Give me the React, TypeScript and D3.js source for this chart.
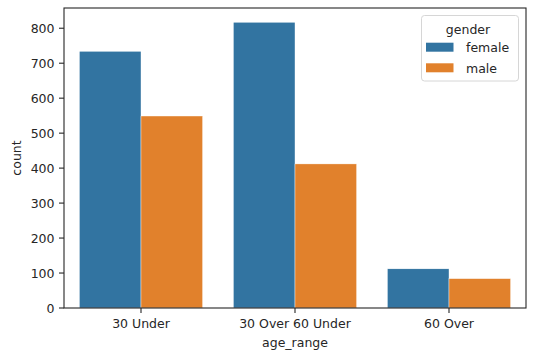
import React from "react";
import * as d3 from "d3";

const categories = ["30 Under", "30 Over 60 Under", "60 Over"];
const hues = ["female", "male"];
const femaleCounts = [734, 817, 112];
const maleCounts = [549, 412, 84];
const yTicks = [0, 100, 200, 300, 400, 500, 600, 700, 800];
const colors = ["#3274a1", "#e1812c"];

export default function App() {
  const W = 539, H = 359;
  const left = 64, right = 526, top = 8, bottom = 308;
  const maxV = d3.max([...femaleCounts, ...maleCounts]) as number;
  const y = d3.scaleLinear().domain([0, maxV * 1.05]).range([bottom, top]);
  const x = d3.scaleLinear().domain([-0.5, categories.length - 0.5]).range([left, right]);
  const series = [femaleCounts, maleCounts];
  const barW = 0.4;
  const font = "DejaVu Sans, sans-serif";
  const txt = "#262626";
  const fs = 12.5;
  return (
    <svg width={W} height={H} style={{ position: "absolute", left: 0, top: 0, background: "#fff" }} fontFamily={font}>
      {series.map((vals, si) =>
        vals.map((v, ci) => {
          const x0 = x(ci - 0.4 + si * barW);
          const x1 = x(ci - 0.4 + (si + 1) * barW);
          return (
            <rect key={`${si}-${ci}`} x={x0} y={y(v)} width={x1 - x0} height={y(0) - y(v)}
              fill={colors[si]} stroke="#ffffff" strokeWidth={0.4} />
          );
        })
      )}
      <rect x={left} y={top} width={right - left} height={bottom - top} fill="none" stroke="#262626" strokeWidth={1.1} />
      {yTicks.map((t) => (
        <g key={t}>
          <line x1={left - 5} x2={left} y1={y(t)} y2={y(t)} stroke="#262626" strokeWidth={1.1} />
          <text x={left - 9.5} y={y(t)} dy="0.36em" textAnchor="end" fontSize={fs} fill={txt}>{t}</text>
        </g>
      ))}
      {categories.map((c, i) => (
        <g key={c}>
          <line x1={x(i)} x2={x(i)} y1={bottom} y2={bottom + 5} stroke="#262626" strokeWidth={1.1} />
          <text x={x(i)} y={328} textAnchor="middle" fontSize={fs} fill={txt}>{c}</text>
        </g>
      ))}
      <text x={(left + right) / 2} y={347} textAnchor="middle" fontSize={fs} fill={txt}>age_range</text>
      <text transform={`translate(20.5,${(top + bottom) / 2}) rotate(-90)`} textAnchor="middle" fontSize={fs} fill={txt}>count</text>
      <g>
        <rect x={421.5} y={15.5} width={97} height={65.5} rx={3} fill="#fff" fillOpacity={0.8} stroke="#d6d6d6" strokeWidth={1} />
        <text x={468} y={29} dy="0.36em" textAnchor="middle" fontSize={fs} fill={txt}>gender</text>
        {hues.map((h, i) => (
          <g key={h}>
            <rect x={426} y={42.7 + i * 20.6} width={27.5} height={9} fill={colors[i]} />
            <text x={466} y={47.5 + i * 20.6} dy="0.36em" fontSize={fs} fill={txt}>{h}</text>
          </g>
        ))}
      </g>
    </svg>
  );
}
